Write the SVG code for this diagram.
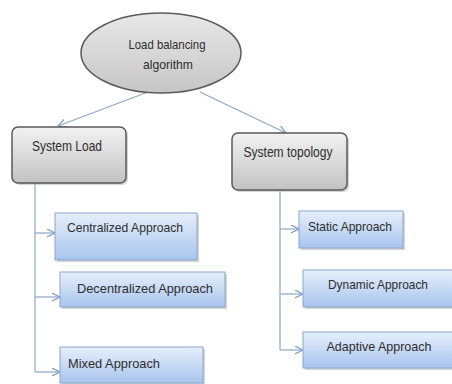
<svg xmlns="http://www.w3.org/2000/svg" width="452" height="384" viewBox="0 0 452 384">
<style>
text{font-family:"Liberation Sans",Arial,sans-serif;font-size:13px;fill:#2e2e2e;text-anchor:middle}
.gray{fill:url(#gg);stroke:#5a5a5a;stroke-width:1.5}
.blue{fill:url(#bg);stroke:#8aa6cc;stroke-width:1}
.sh{fill:#b8b8b8;opacity:0.6}
.c{fill:none;stroke:#8ea8c8;stroke-width:1.2}
</style>
<defs>
<linearGradient id="gg" x1="0" y1="0" x2="0" y2="1"><stop offset="0" stop-color="#f2f2f2"/><stop offset="1" stop-color="#c2c2c2"/></linearGradient>
<linearGradient id="eg" x1="0" y1="0" x2="0" y2="1"><stop offset="0" stop-color="#e8e8e8"/><stop offset="1" stop-color="#c6c6c6"/></linearGradient>
<linearGradient id="bg" x1="0" y1="0" x2="0" y2="1"><stop offset="0" stop-color="#e6effb"/><stop offset="1" stop-color="#a8c4ee"/></linearGradient>
<marker id="a" markerWidth="10" markerHeight="10" refX="8" refY="4" orient="auto" markerUnits="userSpaceOnUse"><path d="M0,0 L8,4 L0,8" fill="none" stroke="#7f9cc2" stroke-width="1.2"/></marker>
</defs>
<g id="connectors">
<line class="c" x1="148" y1="92" x2="58" y2="126" marker-end="url(#a)"/>
<line class="c" x1="200" y1="92" x2="286" y2="133" marker-end="url(#a)"/>
<path class="c" d="M35,183 V372"/>
<line class="c" x1="35" y1="233" x2="55" y2="233" marker-end="url(#a)"/>
<line class="c" x1="35" y1="297" x2="60" y2="297" marker-end="url(#a)"/>
<line class="c" x1="35" y1="372" x2="60" y2="372" marker-end="url(#a)"/>
<path class="c" d="M280,190 V350"/>
<line class="c" x1="280" y1="229" x2="299" y2="229" marker-end="url(#a)"/>
<line class="c" x1="280" y1="294" x2="303" y2="294" marker-end="url(#a)"/>
<line class="c" x1="280" y1="350" x2="303" y2="350" marker-end="url(#a)"/>
</g>
<g id="root">
<ellipse cx="161" cy="53" rx="80" ry="40" fill="url(#eg)" stroke="#5a5a5a" stroke-width="1.5"/>
<text x="167" y="49" textLength="77" lengthAdjust="spacingAndGlyphs">Load balancing</text>
<text x="168" y="69" textLength="50" lengthAdjust="spacingAndGlyphs">algorithm</text>
</g>
<g id="systemload">
<rect class="sh" x="14" y="129" width="114" height="56" rx="6"/>
<rect class="gray" x="12" y="127" width="114" height="56" rx="6"/>
<text x="67" y="151" style="font-size:14px" textLength="70" lengthAdjust="spacingAndGlyphs">System Load</text>
</g>
<g id="systemtopology">
<rect class="sh" x="234" y="135" width="115" height="57" rx="6"/>
<rect class="gray" x="232" y="133" width="115" height="57" rx="6"/>
<text x="288" y="157" style="font-size:14px" textLength="89" lengthAdjust="spacingAndGlyphs">System topology</text>
</g>
<g id="centralized">
<rect class="sh" x="57" y="215" width="142" height="47"/>
<rect class="blue" x="55" y="213" width="142" height="47"/>
<text x="125" y="232" textLength="116" lengthAdjust="spacingAndGlyphs">Centralized Approach</text>
</g>
<g id="decentralized">
<rect class="sh" x="62" y="274" width="165" height="35"/>
<rect class="blue" x="60" y="272" width="165" height="35"/>
<text x="145" y="293" textLength="136" lengthAdjust="spacingAndGlyphs">Decentralized Approach</text>
</g>
<g id="mixed">
<rect class="sh" x="62" y="349" width="143" height="36"/>
<rect class="blue" x="60" y="347" width="143" height="36"/>
<text x="114" y="368" textLength="92" lengthAdjust="spacingAndGlyphs">Mixed Approach</text>
</g>
<g id="static">
<rect class="sh" x="301" y="213" width="104" height="37"/>
<rect class="blue" x="299" y="211" width="104" height="37"/>
<text x="350" y="231" textLength="84" lengthAdjust="spacingAndGlyphs">Static Approach</text>
</g>
<g id="dynamic">
<rect class="sh" x="305" y="272" width="150" height="37"/>
<rect class="blue" x="303" y="270" width="150" height="37"/>
<text x="378" y="289" textLength="100" lengthAdjust="spacingAndGlyphs">Dynamic Approach</text>
</g>
<g id="adaptive">
<rect class="sh" x="305" y="334" width="150" height="36"/>
<rect class="blue" x="303" y="332" width="150" height="36"/>
<text x="379" y="351" textLength="105" lengthAdjust="spacingAndGlyphs">Adaptive Approach</text>
</g>
</svg>
